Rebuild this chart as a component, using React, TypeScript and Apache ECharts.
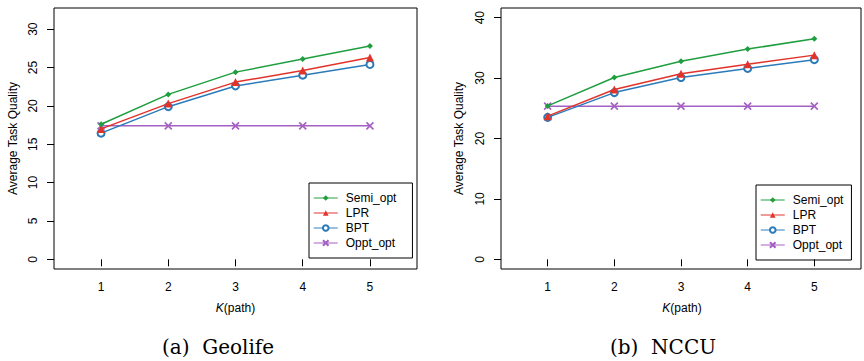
import React, { useEffect, useRef } from "react";
import * as echarts from "echarts";

const kValues = [1, 2, 3, 4, 5];
const seriesNames = ["Semi_opt", "LPR", "BPT", "Oppt_opt"];

const geoSemi = [17.6, 21.5, 24.4, 26.1, 27.8];
const geoLPR = [17.0, 20.3, 23.1, 24.6, 26.3];
const geoBPT = [16.45, 19.9, 22.6, 24.0, 25.4];
const geoOppt = [17.4, 17.4, 17.4, 17.4, 17.4];

const nccuSemi = [25.4, 30.1, 32.8, 34.8, 36.5];
const nccuLPR = [23.7, 28.1, 30.7, 32.3, 33.8];
const nccuBPT = [23.5, 27.6, 30.1, 31.6, 33.05];
const nccuOppt = [25.35, 25.35, 25.35, 25.35, 25.35];

const geoTicks = [0, 5, 10, 15, 20, 25, 30];
const nccuTicks = [0, 10, 20, 30, 40];
const xTicks = [1, 2, 3, 4, 5];

const COLORS = ["#1f9e3f", "#e2332b", "#2b7bba", "#a35fc2"];
const CROSS = "path://M0,0L10,10M10,0L0,10";

export default function App() {
  const ref = useRef<HTMLDivElement>(null);
  useEffect(() => {
    document.body.style.margin = "0";
    const chart = echarts.init(ref.current!, null, { renderer: "svg" });
    const font = "Liberation Sans";
    const mkSeries = (idx: number, vals: number[][]) =>
      vals.map((v, i) => {
        const base: any = {
          name: seriesNames[i],
          type: "line",
          xAxisIndex: idx,
          yAxisIndex: idx,
          data: kValues.map((k, j) => [k, v[j]]),
          lineStyle: { color: COLORS[i], width: 1.5 },
          itemStyle: { color: COLORS[i] },
          emphasis: { disabled: true },
          z: 10 - i,
        };
        if (i === 0) {
          base.symbol = "diamond";
          base.symbolSize = 6;
        } else if (i === 1) {
          base.symbol = "triangle";
          base.symbolSize = 8;
        } else if (i === 2) {
          base.symbol = "emptyCircle";
          base.symbolSize = 7;
          base.itemStyle = { color: COLORS[i], borderWidth: 1.8 };
        } else {
          base.symbol = CROSS;
          base.symbolSize = 7;
          base.itemStyle = { color: COLORS[i], borderColor: COLORS[i], borderWidth: 1.6 };
        }
        return base;
      });

    const grids = [
      { left: 54, top: 8, width: 363, height: 261 },
      { left: 501, top: 8, width: 360, height: 261 },
    ];
    const mkX = (gi: number) => ({
      type: "value",
      gridIndex: gi,
      min: 0.3,
      max: 5.7,
      axisLine: { show: false },
      splitLine: { show: false },
      axisTick: { show: true, inside: false, length: 7, customValues: xTicks, lineStyle: { color: "#000" } },
      axisLabel: { customValues: xTicks, margin: 12, fontFamily: font, fontSize: 12, color: "#000" },
    });
    const mkY = (gi: number, min: number, max: number, ticks: number[]) => ({
      type: "value",
      gridIndex: gi,
      min,
      max,
      axisLine: { show: false },
      splitLine: { show: false },
      axisTick: { show: true, inside: false, length: 7, customValues: ticks, lineStyle: { color: "#000" } },
      axisLabel: { customValues: ticks, rotate: 90, margin: 15, fontFamily: font, fontSize: 12, color: "#000" },
    });
    const mkLegend = (left: number, top: number, pr: number) => ({
      left,
      top,
      orient: "vertical",
      data: seriesNames,
      borderColor: "#000",
      borderWidth: 1,
      borderRadius: 0,
      padding: [9, pr, 9, 4],
      itemWidth: 24,
      itemHeight: 7,
      itemGap: 3,
      selectedMode: false,
      lineStyle: { width: 1.5, opacity: 0.65 },
      textStyle: { fontFamily: font, fontSize: 12, lineHeight: 12, color: "#000", padding: [0, 0, 0, 3] },
    });

    chart.setOption({
      animation: false,
      grid: grids.map((g) => ({ ...g, show: true, borderColor: "#000", borderWidth: 1, backgroundColor: "transparent" })),
      xAxis: [mkX(0), mkX(1)],
      yAxis: [mkY(0, -1.26, 32.76, geoTicks), mkY(1, -1.6, 41.6, nccuTicks)],
      legend: [mkLegend(309, 183, 16), mkLegend(756, 185, 8)],
      series: [
        ...mkSeries(0, [geoSemi, geoLPR, geoBPT, geoOppt]),
        ...mkSeries(1, [nccuSemi, nccuLPR, nccuBPT, nccuOppt]),
      ],
      graphic: [
        {
          type: "text",
          x: 13,
          y: 138.5,
          rotation: Math.PI / 2,
          style: { text: "Average Task Quality", fontFamily: font, fontSize: 12, fill: "#000", textAlign: "center", textVerticalAlign: "middle" },
        },
        {
          type: "text",
          x: 459,
          y: 138.5,
          rotation: Math.PI / 2,
          style: { text: "Average Task Quality", fontFamily: font, fontSize: 12, fill: "#000", textAlign: "center", textVerticalAlign: "middle" },
        },
        {
          type: "text",
          x: 235.5,
          y: 308,
          style: {
            text: "{i|K}(path)",
            rich: { i: { fontStyle: "italic", fontFamily: font, fontSize: 12, fill: "#000" } },
            fontFamily: font,
            fontSize: 12,
            fill: "#000",
            textAlign: "center",
            textVerticalAlign: "middle",
          },
        },
        {
          type: "text",
          x: 682,
          y: 308,
          style: {
            text: "{i|K}(path)",
            rich: { i: { fontStyle: "italic", fontFamily: font, fontSize: 12, fill: "#000" } },
            fontFamily: font,
            fontSize: 12,
            fill: "#000",
            textAlign: "center",
            textVerticalAlign: "middle",
          },
        },
        {
          type: "text",
          x: 218,
          y: 347,
          style: { text: "(a)  Geolife", fontFamily: "DejaVu Serif", fontSize: 20, fill: "#000", textAlign: "center", textVerticalAlign: "middle" },
        },
        {
          type: "text",
          x: 663,
          y: 347,
          style: { text: "(b)  NCCU", fontFamily: "DejaVu Serif", fontSize: 20, fill: "#000", textAlign: "center", textVerticalAlign: "middle" },
        },
      ],
    });
    return () => chart.dispose();
  }, []);
  return <div ref={ref} style={{ width: 864, height: 361 }} />;
}
